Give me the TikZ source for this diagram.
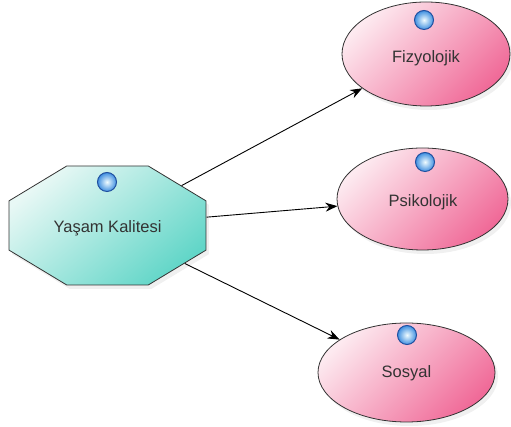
\documentclass[tikz,border=0pt]{standalone}
\usepackage{fontspec}
\setmainfont{Liberation Sans}
\usetikzlibrary{shapes.geometric,arrows.meta,shadows}
\definecolor{txt}{HTML}{333333}
\definecolor{octA}{HTML}{E8F8F5}
\definecolor{octB}{HTML}{62D6C8}
\definecolor{ellA}{HTML}{FDEAF0}
\definecolor{ellB}{HTML}{F06A98}
\definecolor{icoIn}{HTML}{F0FCFF}
\definecolor{icoOut}{HTML}{3F8FE0}
\definecolor{icoRim}{HTML}{1F4F9F}
\begin{document}
\begin{tikzpicture}[x=1pt,y=1pt,
  lbl/.style={font=\fontsize{16.5}{20}\selectfont, text=txt, inner sep=0pt},
  octbox/.style={regular polygon, regular polygon sides=8, minimum size=128.8pt,
    inner sep=0pt, xscale=1.655, transform shape, draw=black!80, line width=0.8pt,
    top color=octA, bottom color=octB, shading angle=40,
    drop shadow={opacity=0.12, shadow xshift=3pt, shadow yshift=-4pt}},
  ellbox/.style={ellipse, inner sep=0pt, draw=black!80, line width=0.8pt,
    top color=ellA, bottom color=ellB, shading angle=45,
    drop shadow={opacity=0.12, shadow xshift=3pt, shadow yshift=-4pt}},
  icon/.style={circle, minimum size=19pt, inner sep=0pt, draw=icoRim, line width=1pt,
    inner color=icoIn, outer color=icoOut},
  conn/.style={-{Stealth[length=12pt,width=9pt]}, line width=0.9pt, black}
]
\useasboundingbox (0,0) rectangle (511,427);
\node[octbox] (yk) at (107.5,201.5) {};
\node[ellbox, minimum width=168pt, minimum height=104pt] (fiz) at (426,373) {};
\node[ellbox, minimum width=171pt, minimum height=102pt] (psi) at (422.5,228) {};
\node[ellbox, minimum width=177pt, minimum height=99pt] (sos) at (406.5,54.5) {};
\node[lbl] (ykt) at (107.5,199) {Yaşam Kalitesi};
\node[lbl] (fizt) at (426,369) {Fizyolojik};
\node[lbl] (psit) at (423,225) {Psikolojik};
\node[lbl] (sost) at (406.5,54) {Sosyal};
\node[icon] (yki) at (107,245) {};
\node[icon] (fizi) at (424,407) {};
\node[icon] (psii) at (425,265) {};
\node[icon] (sosi) at (407,92) {};
\draw[conn] (yk) -- (fiz);
\draw[conn] (yk) -- (psi);
\draw[conn] (yk) -- (sos);
\end{tikzpicture}
\end{document}
